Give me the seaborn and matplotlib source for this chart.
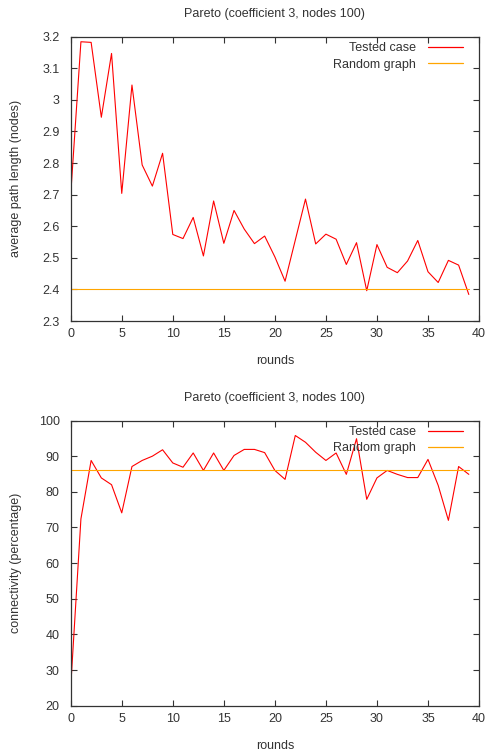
import numpy as np
import pandas as pd
import matplotlib
matplotlib.use("Agg")
import matplotlib.pyplot as plt
from matplotlib.lines import Line2D
import seaborn as sns

# rounds 0..39
rounds = list(range(40))

# average path length per round (tested case)
path_len = [2.70, 3.184, 3.182, 2.945, 3.147, 2.704, 3.047, 2.794, 2.727, 2.831,
            2.574, 2.561, 2.628, 2.506, 2.680, 2.546, 2.650, 2.591, 2.545, 2.569,
            2.503, 2.426, 2.556, 2.686, 2.544, 2.575, 2.559, 2.479, 2.548, 2.396,
            2.542, 2.470, 2.453, 2.490, 2.555, 2.456, 2.422, 2.492, 2.477, 2.384]
path_len_random = 2.40

# connectivity (percentage) per round (tested case)
connectivity = [25.3, 72.4, 88.8, 83.9, 82.0, 74.1, 87.1, 88.8, 90.0, 91.8,
                88.1, 86.9, 90.9, 86.0, 90.9, 86.0, 90.2, 91.9, 91.9, 91.0,
                86.0, 83.5, 95.8, 93.9, 91.1, 88.8, 90.9, 84.9, 94.9, 77.9,
                83.9, 86.0, 84.9, 84.0, 84.0, 89.1, 81.8, 72.0, 87.1, 84.9]
connectivity_random = 86.2

title = "Pareto (coefficient 3, nodes 100)"
red = "#ff0000"
orange = "#ffa500"

sns.set_style("ticks")
plt.rcParams['font.family'] = ['Liberation Sans', 'DejaVu Sans']
plt.rcParams['font.size'] = 9
plt.rcParams['axes.edgecolor'] = '#333333'
plt.rcParams['xtick.color'] = '#333333'
plt.rcParams['ytick.color'] = '#333333'
plt.rcParams['text.color'] = '#333333'
plt.rcParams['axes.labelcolor'] = '#333333'

fig = plt.figure(figsize=(4.88, 7.55), dpi=100)
ax1 = fig.add_axes([0.1449, 0.5748, 0.8367, 0.3766])
ax2 = fig.add_axes([0.1449, 0.0653, 0.8367, 0.3777])


def draw(ax, tested, random_val, ylabel, ylim, yticks, ytick_labels):
    df = pd.DataFrame({"rounds": rounds, "tested": tested,
                       "random": [random_val] * len(rounds)})
    sns.lineplot(data=df, x="rounds", y="tested", ax=ax, color=red, lw=0.8)
    sns.lineplot(data=df, x="rounds", y="random", ax=ax, color=orange, lw=0.8)
    ax.set_xlim(0, 40)
    ax.set_ylim(*ylim)
    ax.set_xticks(range(0, 41, 5))
    ax.set_yticks(yticks)
    ax.set_yticklabels(ytick_labels)
    ax.tick_params(direction="in", top=True, right=True, length=4,
                   width=0.8, labelsize=9)
    ax.tick_params(axis="x", pad=5)
    ax.tick_params(axis="y", pad=8)
    for s in ax.spines.values():
        s.set_linewidth(0.9)
    ax.set_title(title, fontsize=9, pad=14)
    ax.set_xlabel("rounds", fontsize=9)
    ax.set_ylabel(ylabel, fontsize=9)
    ax.xaxis.set_label_coords(0.5, -0.12)
    ax.yaxis.set_label_coords(-0.12, 0.5)
    handles = [Line2D([], [], color=red, lw=0.9),
               Line2D([], [], color=orange, lw=0.9)]
    ax.legend(handles, ["Tested case", "Random graph"], loc="upper right",
              bbox_to_anchor=(0.961, 0.981), frameon=False, markerfirst=False,
              fontsize=9, handlelength=2.8, borderaxespad=0, borderpad=0,
              labelspacing=0.36, handletextpad=1.0)


draw(ax1, path_len, path_len_random, "average path length (nodes)",
     (2.3, 3.2), [2.3, 2.4, 2.5, 2.6, 2.7, 2.8, 2.9, 3.0, 3.1, 3.2],
     ["2.3", "2.4", "2.5", "2.6", "2.7", "2.8", "2.9", "3", "3.1", "3.2"])
draw(ax2, connectivity, connectivity_random, "connectivity (percentage)",
     (20, 100), list(range(20, 101, 10)), [str(v) for v in range(20, 101, 10)])

fig.savefig("out.png", dpi=100)
